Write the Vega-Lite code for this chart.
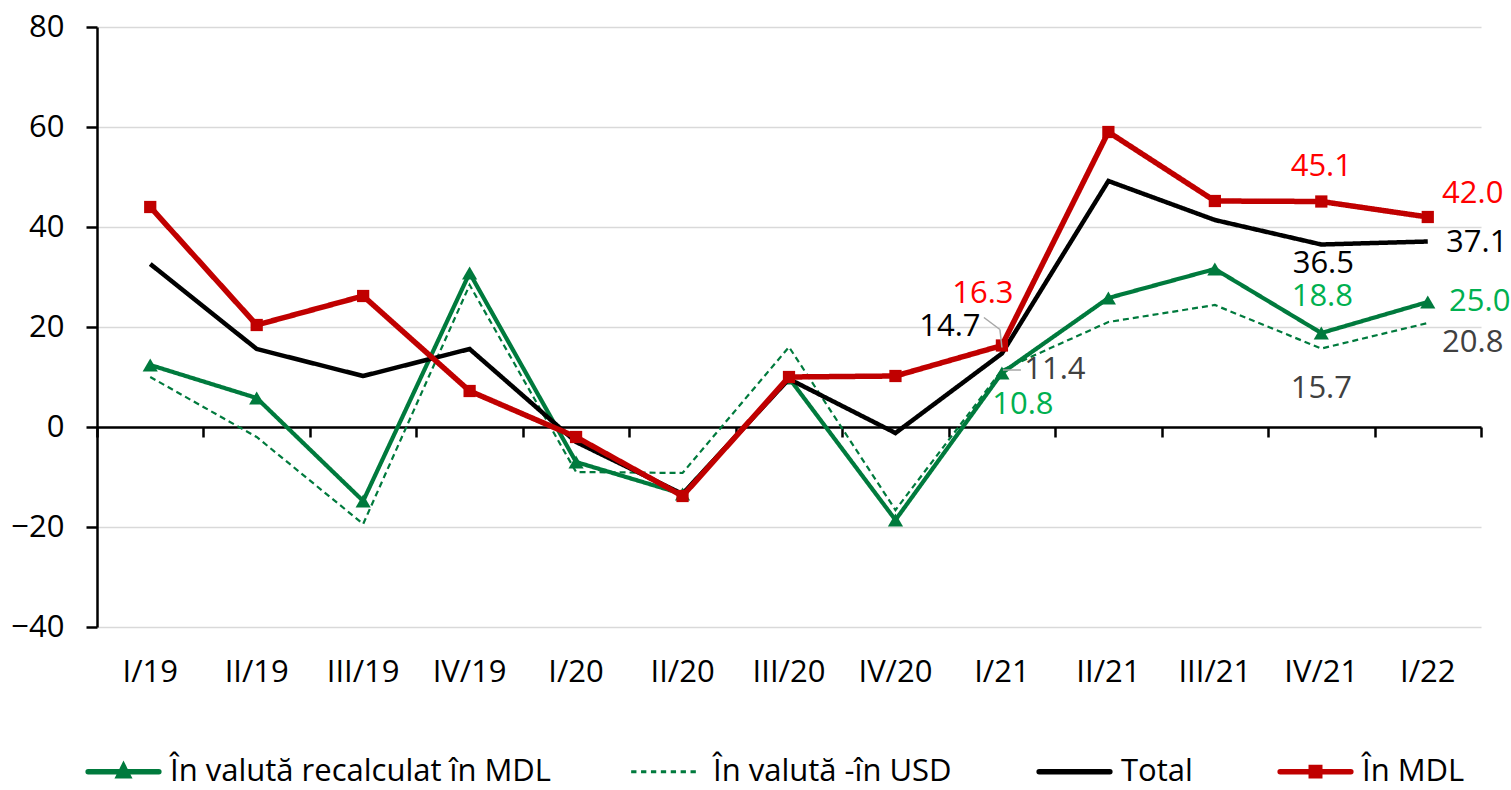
{
  "$schema": "https://vega.github.io/schema/vega-lite/v6.json",
  "width": 1384,
  "height": 600,
  "autosize": "none",
  "padding": {"left": 97, "top": 27, "right": 30, "bottom": 163},
  "background": "white",
  "config": {
    "font": "Open Sans",
    "view": {"stroke": null},
    "legend": {
      "orient": "none",
      "legendX": -12,
      "legendY": 706,
      "direction": "horizontal",
      "symbolSize": 5000,
      "symbolStrokeWidth": 5.5,
      "labelFontSize": 31,
      "labelColor": "#000000",
      "labelOffset": 8,
      "columnPadding": 76,
      "padding": 0,
      "symbolType": "stroke",
      "labelLimit": 0
    }
  },
  "data": {
    "values": [
      {"q": "I/19", "s": "În MDL", "v": 44.0},
      {"q": "II/19", "s": "În MDL", "v": 20.4},
      {"q": "III/19", "s": "În MDL", "v": 26.2},
      {"q": "IV/19", "s": "În MDL", "v": 7.2},
      {"q": "I/20", "s": "În MDL", "v": -2.0},
      {"q": "II/20", "s": "În MDL", "v": -13.8},
      {"q": "III/20", "s": "În MDL", "v": 10.0},
      {"q": "IV/20", "s": "În MDL", "v": 10.2},
      {"q": "I/21", "s": "În MDL", "v": 16.3},
      {"q": "II/21", "s": "În MDL", "v": 59.0},
      {"q": "III/21", "s": "În MDL", "v": 45.2},
      {"q": "IV/21", "s": "În MDL", "v": 45.1},
      {"q": "I/22", "s": "În MDL", "v": 42.0},
      {"q": "I/19", "s": "Total", "v": 32.6},
      {"q": "II/19", "s": "Total", "v": 15.6},
      {"q": "III/19", "s": "Total", "v": 10.2},
      {"q": "IV/19", "s": "Total", "v": 15.6},
      {"q": "I/20", "s": "Total", "v": -3.0},
      {"q": "II/20", "s": "Total", "v": -13.4},
      {"q": "III/20", "s": "Total", "v": 9.6},
      {"q": "IV/20", "s": "Total", "v": -1.2},
      {"q": "I/21", "s": "Total", "v": 14.7},
      {"q": "II/21", "s": "Total", "v": 49.2},
      {"q": "III/21", "s": "Total", "v": 41.4},
      {"q": "IV/21", "s": "Total", "v": 36.5},
      {"q": "I/22", "s": "Total", "v": 37.1},
      {"q": "I/19", "s": "În valută recalculat în MDL", "v": 12.4},
      {"q": "II/19", "s": "În valută recalculat în MDL", "v": 5.8},
      {"q": "III/19", "s": "În valută recalculat în MDL", "v": -14.8},
      {"q": "IV/19", "s": "În valută recalculat în MDL", "v": 30.8},
      {"q": "I/20", "s": "În valută recalculat în MDL", "v": -7.0},
      {"q": "II/20", "s": "În valută recalculat în MDL", "v": -13.4},
      {"q": "III/20", "s": "În valută recalculat în MDL", "v": 9.8},
      {"q": "IV/20", "s": "În valută recalculat în MDL", "v": -18.6},
      {"q": "I/21", "s": "În valută recalculat în MDL", "v": 10.8},
      {"q": "II/21", "s": "În valută recalculat în MDL", "v": 25.8},
      {"q": "III/21", "s": "În valută recalculat în MDL", "v": 31.6},
      {"q": "IV/21", "s": "În valută recalculat în MDL", "v": 18.8},
      {"q": "I/22", "s": "În valută recalculat în MDL", "v": 25.0},
      {"q": "I/19", "s": "În valută -în USD", "v": 10.0},
      {"q": "II/19", "s": "În valută -în USD", "v": -2.0},
      {"q": "III/19", "s": "În valută -în USD", "v": -19.4},
      {"q": "IV/19", "s": "În valută -în USD", "v": 28.4},
      {"q": "I/20", "s": "În valută -în USD", "v": -9.0},
      {"q": "II/20", "s": "În valută -în USD", "v": -9.2},
      {"q": "III/20", "s": "În valută -în USD", "v": 16.0},
      {"q": "IV/20", "s": "În valută -în USD", "v": -16.6},
      {"q": "I/21", "s": "În valută -în USD", "v": 11.4},
      {"q": "II/21", "s": "În valută -în USD", "v": 21.0},
      {"q": "III/21", "s": "În valută -în USD", "v": 24.4},
      {"q": "IV/21", "s": "În valută -în USD", "v": 15.7},
      {"q": "I/22", "s": "În valută -în USD", "v": 20.8}
    ]
  },
  "resolve": {"axis": {"x": "independent"}},
  "layer": [
    {
      "transform": [{"filter": "datum.s === 'În valută -în USD'"}],
      "mark": {"type": "line", "strokeJoin": "miter", "strokeWidth": 2.2},
      "encoding": {
        "x": {
          "field": "q", "type": "nominal", "bandPosition": 0.5,
          "scale": {"type": "band", "domain": ["I/19","II/19","III/19","IV/19","I/20","II/20","III/20","IV/20","I/21","II/21","III/21","IV/21","I/22"], "paddingInner": 0, "paddingOuter": 0},
          "axis": {"title": null, "domain": false, "ticks": false, "grid": false, "labelFontSize": 31, "labelColor": "#000000", "labelPadding": 30, "labelAngle": 0}
        },
        "y": {
          "field": "v", "type": "quantitative",
          "scale": {"domain": [-40, 80], "nice": false, "zero": false},
          "axis": {"title": null, "values": [-40,-20,0,20,40,60,80], "grid": true, "gridColor": "#d9d9d9", "gridWidth": 1.5, "domainColor": "#000000", "domainWidth": 2.5, "tickColor": "#000000", "tickWidth": 2.5, "tickSize": 11, "labelPadding": 22, "labelFontSize": 31, "labelColor": "#000000"}
        },
        "color": {
          "field": "s", "type": "nominal", "title": null,
          "scale": {"domain": ["În valută recalculat în MDL","În valută -în USD","Total","În MDL"], "range": ["#007a3d","#007a3d","#000000","#c00000"]},
          "legend": {
            "title": null,
            "encode": {
              "symbols": {
                "update": {
                  "shape": {"signal": "datum.value === 'În valută recalculat în MDL' ? 'M-1,0H1M-0.13,0.12L0,-0.14L0.13,0.12Z' : datum.value === 'În MDL' ? 'M-1,0H1M-0.12,-0.12H0.12V0.12H-0.12Z' : datum.value === 'În valută -în USD' ? 'M-1,-0.045H-0.85V0.045H-1Z M-0.72,-0.045H-0.57V0.045H-0.72Z M-0.44,-0.045H-0.29V0.045H-0.44Z M-0.16,-0.045H-0.01V0.045H-0.16Z M0.12,-0.045H0.27V0.045H0.12Z M0.4,-0.045H0.55V0.045H0.4Z M0.68,-0.045H0.83V0.045H0.68Z' : 'stroke'"},
                  "fill": {"signal": "scale('color', datum.value)"},
                  "strokeOpacity": {"signal": "datum.value === 'În valută -în USD' ? 0 : 1"},
                  "strokeCap": {"value": "round"}
                }
              }
            }
          }
        },
        "strokeDash": {
          "field": "s", "type": "nominal", "title": null,
          "scale": {"domain": ["În valută recalculat în MDL","În valută -în USD","Total","În MDL"], "range": [[1,0],[6,4],[1,0],[1,0]]}
        }
      }
    },
    {
      "mark": {"type": "point", "opacity": 0},
      "encoding": {
        "x": {
          "field": "q", "type": "nominal", "bandPosition": 0.5, "sort": null,
          "axis": {"orient": "bottom", "offset": -200, "title": null, "labels": false, "grid": false, "domain": true, "domainColor": "#000000", "domainWidth": 2.5, "ticks": true, "tickColor": "#000000", "tickWidth": 2.5, "tickSize": 10, "tickBand": "extent"}
        },
        "y": {"field": "v", "type": "quantitative"}
      }
    },
    {
      "transform": [{"filter": "datum.s === 'În valută recalculat în MDL'"}],
      "mark": {"type": "line", "strokeJoin": "miter", "strokeWidth": 4.2},
      "encoding": {
        "x": {"field": "q", "type": "nominal", "bandPosition": 0.5, "sort": null, "axis": null},
        "y": {"field": "v", "type": "quantitative"},
        "color": {"field": "s", "type": "nominal", "title": null},
        "strokeDash": {"field": "s", "type": "nominal", "title": null}
      }
    },
    {
      "transform": [{"filter": "datum.s === 'În valută recalculat în MDL'"}],
      "mark": {"type": "point", "shape": "triangle-up", "filled": true, "size": 230, "color": "#007a3d", "opacity": 1},
      "encoding": {
        "x": {"field": "q", "type": "nominal", "bandPosition": 0.5, "sort": null, "axis": null},
        "y": {"field": "v", "type": "quantitative"}
      }
    },
    {
      "transform": [{"filter": "datum.s === 'Total'"}],
      "mark": {"type": "line", "strokeJoin": "miter", "strokeWidth": 4.5},
      "encoding": {
        "x": {"field": "q", "type": "nominal", "bandPosition": 0.5, "sort": null, "axis": null},
        "y": {"field": "v", "type": "quantitative"},
        "color": {"field": "s", "type": "nominal", "title": null},
        "strokeDash": {"field": "s", "type": "nominal", "title": null}
      }
    },
    {
      "transform": [{"filter": "datum.s === 'În MDL'"}],
      "mark": {"type": "line", "strokeJoin": "miter", "strokeWidth": 5.5},
      "encoding": {
        "x": {"field": "q", "type": "nominal", "bandPosition": 0.5, "sort": null, "axis": null},
        "y": {"field": "v", "type": "quantitative"},
        "color": {"field": "s", "type": "nominal", "title": null},
        "strokeDash": {"field": "s", "type": "nominal", "title": null}
      }
    },
    {
      "transform": [{"filter": "datum.s === 'În MDL'"}],
      "mark": {"type": "point", "shape": "square", "filled": true, "size": 150, "color": "#c00000", "opacity": 1},
      "encoding": {
        "x": {"field": "q", "type": "nominal", "bandPosition": 0.5, "sort": null, "axis": null},
        "y": {"field": "v", "type": "quantitative"}
      }
    },
    {
      "transform": [{"filter": "datum.q === 'I/21' && datum.s === 'În valută -în USD'"}],
      "mark": {"type": "rule", "color": "#a6a6a6", "strokeWidth": 1.5, "xOffset": 1, "x2Offset": 19},
      "encoding": {
        "x": {"field": "q", "type": "nominal", "bandPosition": 0.5, "sort": null, "axis": null},
        "x2": {"field": "q"},
        "y": {"field": "v", "type": "quantitative"}
      }
    },
    {
      "transform": [{"filter": "datum.q === 'I/21' && datum.s === 'Total'"}],
      "mark": {"type": "rule", "color": "#a6a6a6", "strokeWidth": 1.5, "xOffset": -18, "yOffset": -36, "x2Offset": -2, "y2Offset": -24},
      "encoding": {
        "x": {"field": "q", "type": "nominal", "bandPosition": 0.5, "sort": null, "axis": null},
        "x2": {"field": "q"},
        "y": {"field": "v", "type": "quantitative"},
        "y2": {"field": "v"}
      }
    },
    {
      "transform": [{"filter": "datum.q === 'I/21' && datum.s === 'Total'"}],
      "mark": {"type": "rule", "color": "#a6a6a6", "strokeWidth": 1.5, "xOffset": -2, "yOffset": -24, "x2Offset": 0, "y2Offset": -6},
      "encoding": {
        "x": {"field": "q", "type": "nominal", "bandPosition": 0.5, "sort": null, "axis": null},
        "x2": {"field": "q"},
        "y": {"field": "v", "type": "quantitative"},
        "y2": {"field": "v"}
      }
    },
    {
      "transform": [{"filter": "datum.q === 'I/21' && datum.s === 'În MDL'"}],
      "mark": {"type": "text", "dx": -19, "dy": -52, "color": "#ff0000", "fontSize": 31},
      "encoding": {
        "x": {"field": "q", "type": "nominal", "bandPosition": 0.5, "sort": null, "axis": null},
        "y": {"field": "v", "type": "quantitative"},
        "text": {"field": "v", "type": "quantitative", "format": ".1f"}
      }
    },
    {
      "transform": [{"filter": "datum.q === 'IV/21' && datum.s === 'În MDL'"}],
      "mark": {"type": "text", "dx": 0, "dy": -35, "color": "#ff0000", "fontSize": 31},
      "encoding": {
        "x": {"field": "q", "type": "nominal", "bandPosition": 0.5, "sort": null, "axis": null},
        "y": {"field": "v", "type": "quantitative"},
        "text": {"field": "v", "type": "quantitative", "format": ".1f"}
      }
    },
    {
      "transform": [{"filter": "datum.q === 'I/22' && datum.s === 'În MDL'"}],
      "mark": {"type": "text", "dx": 45, "dy": -23, "color": "#ff0000", "fontSize": 31},
      "encoding": {
        "x": {"field": "q", "type": "nominal", "bandPosition": 0.5, "sort": null, "axis": null},
        "y": {"field": "v", "type": "quantitative"},
        "text": {"field": "v", "type": "quantitative", "format": ".1f"}
      }
    },
    {
      "transform": [{"filter": "datum.q === 'I/21' && datum.s === 'Total'"}],
      "mark": {"type": "text", "dx": -52, "dy": -27, "color": "#000000", "fontSize": 31},
      "encoding": {
        "x": {"field": "q", "type": "nominal", "bandPosition": 0.5, "sort": null, "axis": null},
        "y": {"field": "v", "type": "quantitative"},
        "text": {"field": "v", "type": "quantitative", "format": ".1f"}
      }
    },
    {
      "transform": [{"filter": "datum.q === 'IV/21' && datum.s === 'Total'"}],
      "mark": {"type": "text", "dx": 2, "dy": 19, "color": "#000000", "fontSize": 31},
      "encoding": {
        "x": {"field": "q", "type": "nominal", "bandPosition": 0.5, "sort": null, "axis": null},
        "y": {"field": "v", "type": "quantitative"},
        "text": {"field": "v", "type": "quantitative", "format": ".1f"}
      }
    },
    {
      "transform": [{"filter": "datum.q === 'I/22' && datum.s === 'Total'"}],
      "mark": {"type": "text", "dx": 49, "dy": 1, "color": "#000000", "fontSize": 31},
      "encoding": {
        "x": {"field": "q", "type": "nominal", "bandPosition": 0.5, "sort": null, "axis": null},
        "y": {"field": "v", "type": "quantitative"},
        "text": {"field": "v", "type": "quantitative", "format": ".1f"}
      }
    },
    {
      "transform": [{"filter": "datum.q === 'I/21' && datum.s === 'În valută recalculat în MDL'"}],
      "mark": {"type": "text", "dx": 21, "dy": 32, "color": "#00b050", "fontSize": 31},
      "encoding": {
        "x": {"field": "q", "type": "nominal", "bandPosition": 0.5, "sort": null, "axis": null},
        "y": {"field": "v", "type": "quantitative"},
        "text": {"field": "v", "type": "quantitative", "format": ".1f"}
      }
    },
    {
      "transform": [{"filter": "datum.q === 'IV/21' && datum.s === 'În valută recalculat în MDL'"}],
      "mark": {"type": "text", "dx": 1, "dy": -36, "color": "#00b050", "fontSize": 31},
      "encoding": {
        "x": {"field": "q", "type": "nominal", "bandPosition": 0.5, "sort": null, "axis": null},
        "y": {"field": "v", "type": "quantitative"},
        "text": {"field": "v", "type": "quantitative", "format": ".1f"}
      }
    },
    {
      "transform": [{"filter": "datum.q === 'I/22' && datum.s === 'În valută recalculat în MDL'"}],
      "mark": {"type": "text", "dx": 52, "dy": 0, "color": "#00b050", "fontSize": 31},
      "encoding": {
        "x": {"field": "q", "type": "nominal", "bandPosition": 0.5, "sort": null, "axis": null},
        "y": {"field": "v", "type": "quantitative"},
        "text": {"field": "v", "type": "quantitative", "format": ".1f"}
      }
    },
    {
      "transform": [{"filter": "datum.q === 'I/21' && datum.s === 'În valută -în USD'"}],
      "mark": {"type": "text", "dx": 53, "dy": 0, "color": "#404040", "fontSize": 31},
      "encoding": {
        "x": {"field": "q", "type": "nominal", "bandPosition": 0.5, "sort": null, "axis": null},
        "y": {"field": "v", "type": "quantitative"},
        "text": {"field": "v", "type": "quantitative", "format": ".1f"}
      }
    },
    {
      "transform": [{"filter": "datum.q === 'IV/21' && datum.s === 'În valută -în USD'"}],
      "mark": {"type": "text", "dx": 0, "dy": 40, "color": "#404040", "fontSize": 31},
      "encoding": {
        "x": {"field": "q", "type": "nominal", "bandPosition": 0.5, "sort": null, "axis": null},
        "y": {"field": "v", "type": "quantitative"},
        "text": {"field": "v", "type": "quantitative", "format": ".1f"}
      }
    },
    {
      "transform": [{"filter": "datum.q === 'I/22' && datum.s === 'În valută -în USD'"}],
      "mark": {"type": "text", "dx": 45, "dy": 20, "color": "#404040", "fontSize": 31},
      "encoding": {
        "x": {"field": "q", "type": "nominal", "bandPosition": 0.5, "sort": null, "axis": null},
        "y": {"field": "v", "type": "quantitative"},
        "text": {"field": "v", "type": "quantitative", "format": ".1f"}
      }
    }
  ]
}
